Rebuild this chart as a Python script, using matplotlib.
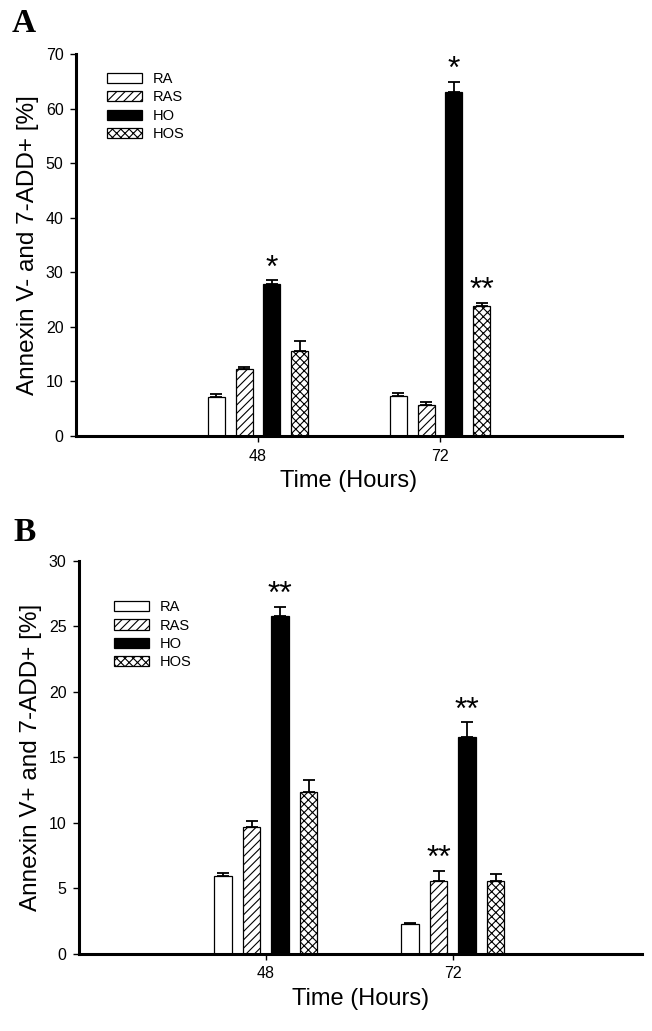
import matplotlib
matplotlib.use("Agg")
import matplotlib.pyplot as plt
import numpy as np

plt.rcParams['font.family'] = ['Liberation Sans', 'DejaVu Sans']
plt.rcParams['hatch.linewidth'] = 0.8

times = [48, 72]
groups = ["RA", "RAS", "HO", "HOS"]

# Panel A: Annexin V- and 7-ADD+ [%]
a_RA = [7.2, 7.3]
a_RAS = [12.3, 5.6]
a_HO = [27.9, 63.0]
a_HOS = [15.6, 23.8]
a_RA_err = [0.5, 0.6]
a_RAS_err = [0.4, 0.7]
a_HO_err = [0.6, 1.9]
a_HOS_err = [1.9, 0.6]
a_marks = {("HO", 0): "*", ("HO", 1): "*", ("HOS", 1): "**"}

# Panel B: Annexin V+ and 7-ADD+ [%]
b_RA = [5.95, 2.27]
b_RAS = [9.72, 5.57]
b_HO = [25.8, 16.54]
b_HOS = [12.4, 5.57]
b_RA_err = [0.2, 0.12]
b_RAS_err = [0.45, 0.8]
b_HO_err = [0.7, 1.15]
b_HOS_err = [0.85, 0.5]
b_marks = {("HO", 0): "**", ("HO", 1): "**", ("RAS", 1): "**"}

styles = {
    "RA": dict(facecolor="white", hatch=None),
    "RAS": dict(facecolor="white", hatch="////"),
    "HO": dict(facecolor="black", hatch=None),
    "HOS": dict(facecolor="white", hatch="xxxx"),
}
offsets = [-5.5, -1.83, 1.83, 5.5]
width = 2.24

fig = plt.figure(figsize=(6.52, 10.31), dpi=100)
axA = fig.add_axes([0.1166, 0.5771, 0.8374, 0.3705])
axB = fig.add_axes([0.1212, 0.0747, 0.8635, 0.3812])


def panel(ax, vals, errs, marks, ylim, yticks, ylabel, xmax, legend_pos):
    x = np.array(times, dtype=float)
    handles = []
    for g, off, v, e in zip(groups, offsets, vals, errs):
        st = styles[g]
        b = ax.bar(x + off, v, width, color=st["facecolor"], edgecolor="black",
                   linewidth=0.9, hatch=st["hatch"], label=g, zorder=2)
        handles.append(b)
        ax.errorbar(x + off, v, yerr=[np.zeros(len(v)), e], fmt="none",
                    ecolor="black", elinewidth=1.3, capsize=4.5, capthick=1.3, zorder=3)
        for i in range(len(v)):
            if (g, i) in marks:
                ax.annotate(marks[(g, i)], xy=(x[i] + off, v[i] + e[i]),
                            xytext=(0, 2.5), textcoords="offset points",
                            ha="center", va="baseline", fontsize=23)
    ax.set_xlim(24, xmax)
    ax.set_ylim(*ylim)
    ax.set_yticks(yticks)
    ax.set_xticks(times)
    ax.set_xticklabels([str(t) for t in times])
    for s in ["top", "right"]:
        ax.spines[s].set_visible(False)
    for s in ["left", "bottom"]:
        ax.spines[s].set_linewidth(2.2)
    ax.tick_params(direction="out", length=4, width=1, labelsize=11.5, pad=5)
    ax.set_xlabel("Time (Hours)", fontsize=17, labelpad=5)
    ax.set_ylabel(ylabel, fontsize=17.5, labelpad=5)
    ax.legend(handles=handles, labels=groups, loc="upper left",
              bbox_to_anchor=legend_pos, frameon=False, fontsize=10.5,
              handlelength=2.4, handleheight=0.7, labelspacing=0.3,
              handletextpad=0.75, borderaxespad=0)


panel(axA, [a_RA, a_RAS, a_HO, a_HOS], [a_RA_err, a_RAS_err, a_HO_err, a_HOS_err],
      a_marks, (0, 70), range(0, 71, 10), "Annexin V- and 7-ADD+ [%]", 96,
      (0.046, 0.968))
panel(axB, [b_RA, b_RAS, b_HO, b_HOS], [b_RA_err, b_RAS_err, b_HO_err, b_HOS_err],
      b_marks, (0, 30), range(0, 31, 5), "Annexin V+ and 7-ADD+ [%]", 96.3,
      (0.052, 0.915))

fig.text(0.018, 0.962, "A", fontsize=24, fontweight="bold", family="Liberation Serif",
         va="bottom")
fig.text(0.020, 0.468, "B", fontsize=24, fontweight="bold", family="Liberation Serif",
         va="bottom")

fig.savefig("out.png", dpi=100)
